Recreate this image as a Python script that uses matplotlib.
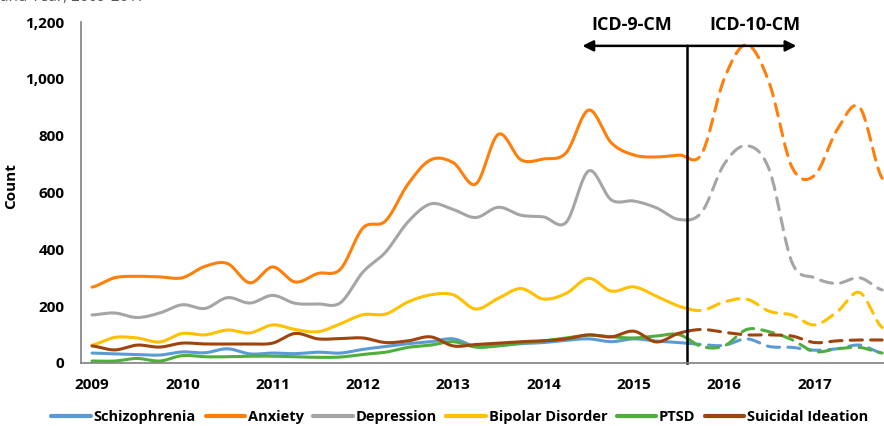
import numpy as np
import matplotlib
matplotlib.use("Agg")
import matplotlib.pyplot as plt

plt.rcParams['font.family'] = ['Open Sans', 'DejaVu Sans']

# quarterly points, 2009 Q1 .. 2017 Q4
start_year = 2009
step = 0.25
icd_switch = 2015.62

schizophrenia = [35, 32, 30, 28, 39, 36, 50, 32, 35, 33, 38, 35, 48, 58, 68, 75, 85, 58,
                 62, 68, 72, 80, 85, 75, 85, 77, 72, 65, 62, 85, 58, 55, 45, 50, 63, 35]
anxiety = [267, 300, 305, 303, 300, 340, 350, 282, 338, 285, 315, 330, 475, 500, 630, 715, 705, 630,
           805, 715, 718, 740, 890, 775, 732, 725, 732, 735, 1000, 1120, 985, 690, 660, 820, 900, 650]
depression = [169, 176, 160, 176, 205, 192, 230, 211, 238, 210, 208, 212, 320, 390, 497, 560, 540, 512,
              548, 520, 514, 495, 676, 574, 570, 546, 505, 530, 700, 765, 680, 355, 300, 280, 300, 257]
bipolar = [63, 90, 88, 74, 104, 99, 116, 106, 134, 118, 110, 138, 170, 172, 215, 240, 240, 190,
           228, 262, 225, 245, 298, 253, 268, 235, 200, 185, 215, 225, 182, 169, 134, 180, 248, 125]
ptsd = [7, 7, 16, 7, 26, 22, 22, 24, 24, 22, 20, 21, 30, 38, 55, 63, 75, 56,
        60, 70, 78, 88, 98, 92, 88, 95, 100, 58, 60, 118, 110, 82, 40, 50, 55, 35]
suicidal = [60, 46, 63, 56, 70, 67, 67, 67, 70, 104, 85, 86, 88, 72, 78, 92, 60, 65,
            70, 75, 78, 85, 99, 92, 112, 74, 105, 118, 108, 99, 99, 95, 72, 78, 81, 81]

names = ["Schizophrenia", "Anxiety", "Depression", "Bipolar Disorder", "PTSD", "Suicidal Ideation"]
series = [schizophrenia, anxiety, depression, bipolar, ptsd, suicidal]
colors = ["#5B9BD5", "#FF7F0A", "#A5A5A5", "#FFC000", "#4FAE3C", "#A0440E"]

year_ticks = list(range(2009, 2018))


# Excel-like smoothed line (Catmull-Rom through the points)
def smooth(x, y, n=20):
    x = np.asarray(x, float)
    y = np.asarray(y, float)
    yp = np.concatenate([[y[0]], y, [y[-1]]])
    xs, ys = [], []
    for i in range(len(x) - 1):
        p0, p1, p2, p3 = yp[i], yp[i + 1], yp[i + 2], yp[i + 3]
        t = np.linspace(0, 1, n, endpoint=False)
        m1 = (p2 - p0) / 2
        m2 = (p3 - p1) / 2
        h00 = 2 * t**3 - 3 * t**2 + 1
        h10 = t**3 - 2 * t**2 + t
        h01 = -2 * t**3 + 3 * t**2
        h11 = t**3 - t**2
        ys.append(h00 * p1 + h10 * m1 + h01 * p2 + h11 * m2)
        xs.append(x[i] + t * (x[i + 1] - x[i]))
    xs.append([x[-1]])
    ys.append([y[-1]])
    return np.concatenate(xs), np.concatenate(ys)


fig = plt.figure(figsize=(8.84, 4.26), dpi=100)
ax = fig.add_axes([81 / 884, 63 / 426, 803 / 884, 341 / 426])

x = start_year + step * np.arange(len(anxiety))
for name, vals, c in zip(names, series, colors):
    xs, ys = smooth(x, vals)
    solid = xs <= icd_switch
    dashed = xs >= icd_switch - 0.02
    ax.plot(xs[solid], ys[solid], color=c, lw=2.2, solid_capstyle='round', label=name)
    ax.plot(xs[dashed], ys[dashed], color=c, lw=2.2, dashes=(4, 2.7), dash_capstyle='round')

ax.set_xlim(2008.878, 2017.77)
ax.set_ylim(0, 1200)
ax.set_yticks(range(0, 1201, 200))
ax.set_yticklabels([f"{v:,}" for v in range(0, 1201, 200)])
ax.set_xticks(year_ticks)
ax.set_xticklabels([str(y) for y in year_ticks])
ax.tick_params(length=0, labelsize=11)
ax.tick_params(axis='x', pad=11)
ax.tick_params(axis='y', pad=12)
for lab in ax.get_xticklabels() + ax.get_yticklabels():
    lab.set_fontweight('bold')
for s in ['top', 'right']:
    ax.spines[s].set_visible(False)
for s in ['left', 'bottom']:
    ax.spines[s].set_color('#808080')
    ax.spines[s].set_linewidth(1.2)

ax.set_ylabel("Count", fontsize=11, fontweight='bold')
ax.yaxis.set_label_coords(-0.078, 0.52)

# ICD coding switch
ax.plot([icd_switch - 0.03, icd_switch - 0.03], [0, 0.93], color='black', lw=1.8,
        transform=ax.get_xaxis_transform(), clip_on=False)
ax.annotate("", xy=(2014.43, 0.93), xytext=(icd_switch - 0.03, 0.93),
            xycoords=ax.get_xaxis_transform(),
            arrowprops=dict(arrowstyle='-|>', color='black', lw=1.8, mutation_scale=16,
                            shrinkA=0, shrinkB=0))
ax.annotate("", xy=(2016.80, 0.93), xytext=(icd_switch - 0.03, 0.93),
            xycoords=ax.get_xaxis_transform(),
            arrowprops=dict(arrowstyle='-|>', color='black', lw=1.8, mutation_scale=16,
                            shrinkA=0, shrinkB=0))
ax.text(2014.98, 0.99, "ICD-9-CM", transform=ax.get_xaxis_transform(),
        ha='center', va='center', fontsize=13, fontweight='bold')
ax.text(2016.34, 0.99, "ICD-10-CM", transform=ax.get_xaxis_transform(),
        ha='center', va='center', fontsize=13, fontweight='bold')

# title mostly cropped off at the top
fig.text(0.0, 1 - 5 / 426, "and Year, 2009-2017", fontsize=11, color='#595959',
         ha='left', va='bottom')

leg = fig.legend(loc='center', bbox_to_anchor=(460 / 884, 1 - 417 / 426), ncol=6,
                 frameon=False, handlelength=2.7, handletextpad=0.2, columnspacing=0.65,
                 prop={'weight': 'bold', 'size': 10.5})
for line in leg.get_lines():
    line.set_linewidth(3)

fig.savefig("out.png", dpi=100)
